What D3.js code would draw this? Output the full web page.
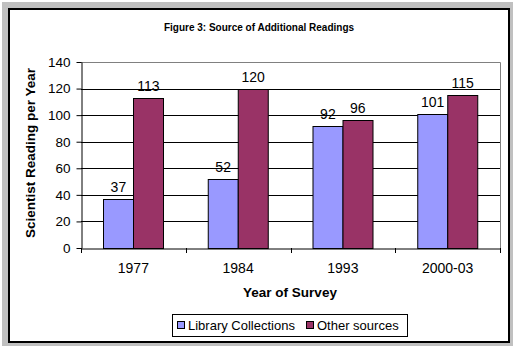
<!DOCTYPE html>
<html>
<head>
<meta charset="utf-8">
<script src="https://cdn.jsdelivr.net/npm/d3@7"></script>
<style>
  body { margin: 0; background: #ffffff; }
  text { font-family: "Liberation Sans", Arial, sans-serif; }
</style>
</head>
<body>
<script>
// chart data
var years = ["1977", "1984", "1993", "2000-03"];
var seriesNames = ["Library Collections", "Other sources"];
var library = [37, 52, 92, 101];
var other = [113, 120, 96, 115];
var yTicks = [0, 20, 40, 60, 80, 100, 120, 140];
var colors = ["#9999ff", "#993366"];

var svg = d3.select("body")
        .append("svg")
        .attr("width", 520)
        .attr("height", 352);

// frame
svg.append("rect")
        .attr("x", 2).attr("y", 2)
        .attr("width", 511).attr("height", 344)
        .attr("fill", "#c0c0c0");
svg.append("rect")
        .attr("x", 9).attr("y", 9)
        .attr("width", 500).attr("height", 333)
        .attr("fill", "#ffffff")
        .attr("stroke", "#000")
        .attr("stroke-width", 2);

svg.append("text")
        .attr("x", 259).attr("y", 31)
        .attr("text-anchor", "middle")
        .attr("font-size", "10px")
        .attr("font-weight", "bold")
        .text("Figure 3: Source of Additional Readings");

var pLeft = 81, pRight = 500, pTop = 62, pBottom = 248;

var x = d3.scaleBand().domain(years).range([pLeft, pRight]).padding(0);
var x1 = d3.scaleBand().domain(seriesNames).range([0, x.bandwidth()])
        .paddingInner(0).paddingOuter(0.75);
var y = d3.scaleLinear().domain([0, 140]).range([pBottom, pTop]);

// gridlines
svg.append("g")
        .selectAll("line")
        .data(yTicks.filter(function(d){ return d > 0 && d < 140; }))
        .enter()
        .append("line")
        .attr("x1", pLeft).attr("x2", pRight)
        .attr("y1", function(d){ return Math.round(y(d)) + 0.5; })
        .attr("y2", function(d){ return Math.round(y(d)) + 0.5; })
        .attr("stroke", "#000");

// plot border (top and right)
svg.append("path")
        .attr("d", "M" + pLeft + "," + (pTop + 0.5) + "H" + (pRight + 0.5) + "V" + pBottom)
        .attr("fill", "none")
        .attr("stroke", "#808080");

// bars
var rows = years.map(function(yr, i){
    return [{year: yr, s: seriesNames[0], v: library[i], c: colors[0]},
            {year: yr, s: seriesNames[1], v: other[i], c: colors[1]}];
});

var group = svg.selectAll("g.grp")
        .data(rows)
        .enter()
        .append("g")
        .attr("class", "grp")
        .attr("transform", function(d){ return "translate(" + x(d[0].year) + ",0)"; });

group.selectAll("rect")
        .data(function(d){ return d; })
        .enter()
        .append("rect")
        .attr("x", function(d){ return Math.round(x1(d.s)) + 0.5; })
        .attr("y", function(d){ return Math.round(y(d.v)) + 0.5; })
        .attr("width", function(d){ return Math.round(x1.bandwidth()); })
        .attr("height", function(d){ return Math.round(pBottom - y(d.v)); })
        .attr("fill", function(d){ return d.c; })
        .attr("stroke", "#000")
        .attr("stroke-width", 1);

group.selectAll("text")
        .data(function(d){ return d; })
        .enter()
        .append("text")
        .attr("x", function(d){ return x1(d.s) + x1.bandwidth() / 2; })
        .attr("y", function(d){ return y(d.v) - 7; })
        .attr("text-anchor", "middle")
        .attr("font-size", "14px")
        .text(function(d){ return d.v; });

// y axis
var yAxis = svg.append("g")
        .attr("transform", "translate(" + (pLeft + 0.5) + ",0)")
        .call(d3.axisLeft(y).tickValues(yTicks).tickSize(5).tickSizeOuter(0).tickPadding(6));
yAxis.select(".domain").attr("stroke", "#000");
yAxis.selectAll("text")
        .attr("font-size", "13.5px")
        .attr("font-family", "Liberation Sans, Arial, sans-serif")
        .attr("fill", "#000");

// x axis
var xAxis = svg.append("g")
        .attr("transform", "translate(0," + (pBottom + 0.5) + ")")
        .call(d3.axisBottom(x).tickSize(0).tickPadding(15));
xAxis.select(".domain").attr("stroke", "#000");
xAxis.selectAll("text")
        .attr("font-size", "14px")
        .attr("font-family", "Liberation Sans, Arial, sans-serif")
        .attr("fill", "#000");

var bounds = years.map(function(d){ return x(d); }).concat([pRight]);
svg.append("g")
        .selectAll("line")
        .data(bounds)
        .enter()
        .append("line")
        .attr("x1", function(d){ return Math.round(d) + 0.5; })
        .attr("x2", function(d){ return Math.round(d) + 0.5; })
        .attr("y1", pBottom).attr("y2", pBottom + 5)
        .attr("stroke", "#000");

// axis titles
svg.append("text")
        .attr("transform", "translate(35,153) rotate(-90)")
        .attr("text-anchor", "middle")
        .attr("font-size", "13.5px")
        .attr("font-weight", "bold")
        .text("Scientist Reading per Year");

svg.append("text")
        .attr("x", 290).attr("y", 297)
        .attr("text-anchor", "middle")
        .attr("font-size", "13.5px")
        .attr("font-weight", "bold")
        .text("Year of Survey");

// legend
var legend = svg.append("g");
legend.append("rect")
        .attr("x", 172.5).attr("y", 314.5)
        .attr("width", 235).attr("height", 22)
        .attr("fill", "#fff")
        .attr("stroke", "#000");

var legX = [177, 306];
var items = legend.selectAll("g.item")
        .data(seriesNames)
        .enter()
        .append("g")
        .attr("class", "item")
        .attr("transform", function(d, i){ return "translate(" + legX[i] + ",0)"; });
items.append("rect")
        .attr("x", 0.5).attr("y", 321.5)
        .attr("width", 7).attr("height", 7)
        .attr("fill", function(d, i){ return colors[i]; })
        .attr("stroke", "#000");
items.append("text")
        .attr("x", 11).attr("y", 330)
        .attr("font-size", "13px")
        .text(function(d){ return d; });
</script>
</body>
</html>
